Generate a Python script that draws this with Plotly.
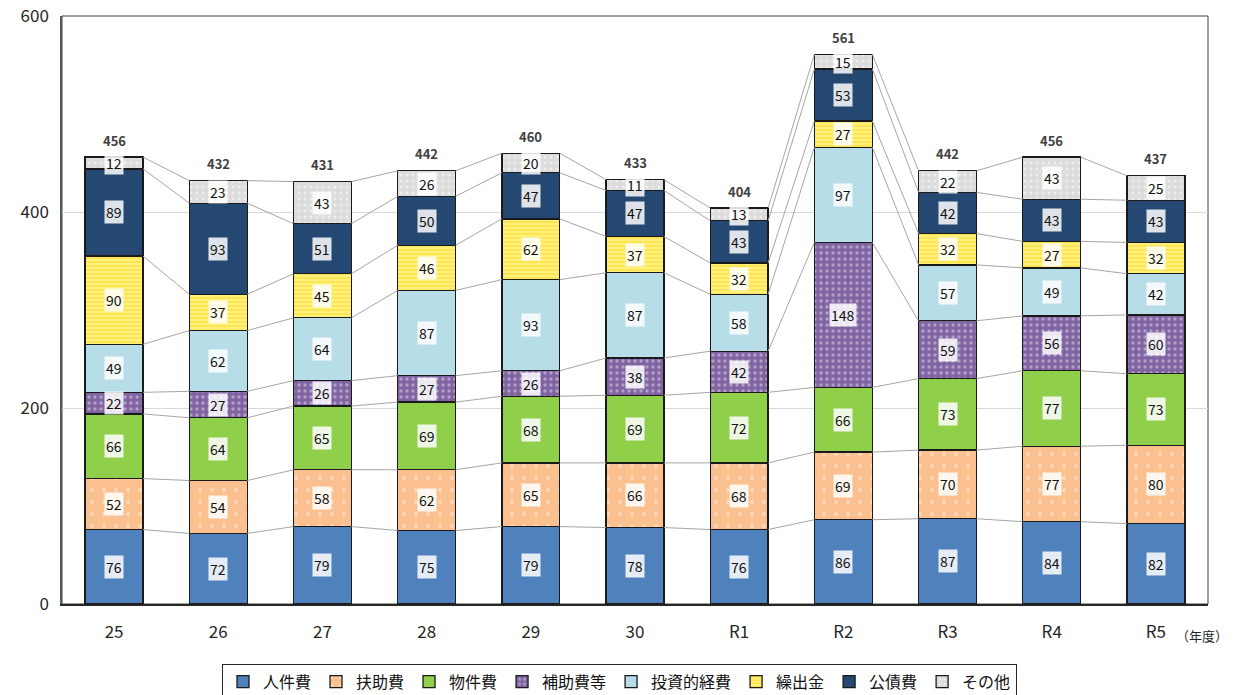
import plotly.graph_objects as go

years = ["25", "26", "27", "28", "29", "30", "R1", "R2", "R3", "R4", "R5"]

jinkenhi = [76, 72, 79, 75, 79, 78, 76, 86, 87, 84, 82]
fujohi = [52, 54, 58, 62, 65, 66, 68, 69, 70, 77, 80]
bukkenhi = [66, 64, 65, 69, 68, 69, 72, 66, 73, 77, 73]
hojohi = [22, 27, 26, 27, 26, 38, 42, 148, 59, 56, 60]
toushi = [49, 62, 64, 87, 93, 87, 58, 97, 57, 49, 42]
kuridashi = [90, 37, 45, 46, 62, 37, 32, 27, 32, 27, 32]
kousaihi = [89, 93, 51, 50, 47, 47, 43, 53, 42, 43, 43]
sonota = [12, 23, 43, 26, 20, 11, 13, 15, 22, 43, 25]

series = [
    ("人件費", jinkenhi, "#4F81BD", None),
    ("扶助費", fujohi, "#FAC090", dict(shape=".", fgcolor="rgba(255,255,255,0.8)", size=12, solidity=0.08)),
    ("物件費", bukkenhi, "#8FCF4A", None),
    ("補助費等", hojohi, "#8064A2", dict(shape=".", fgcolor="#E6DCF0", size=6, solidity=0.25)),
    ("投資的経費", toushi, "#B7DEE8", None),
    ("繰出金", kuridashi, "#FFF27A", dict(shape="-", fgcolor="#FFC000", size=4, solidity=0.3)),
    ("公債費", kousaihi, "#254873", None),
    ("その他", sonota, "#DCDCDC", dict(shape=".", fgcolor="#FFFFFF", size=6, solidity=0.2)),
]

FONT = "Noto Sans CJK JP"
BAR_W = 0.556
xs = list(range(len(years)))

fig = go.Figure()

# cumulative tops of every stacked segment
cums = []
running = [0] * len(years)
for name, vals, color, pat in series:
    running = [r + v for r, v in zip(running, vals)]
    cums.append(list(running))

# grey connector lines between adjacent bars at each segment top
for tops in cums:
    cx, cy = [], []
    for i in range(len(years) - 1):
        cx += [i + BAR_W / 2, i + 1 - BAR_W / 2, None]
        cy += [tops[i], tops[i + 1], None]
    fig.add_trace(go.Scatter(x=cx, y=cy, mode="lines", line=dict(color="#A6A6A6", width=1),
                             showlegend=False, hoverinfo="skip"))

for name, vals, color, pat in series:
    marker = dict(color=color, line=dict(color="#1A1A1A", width=1.3))
    if pat:
        marker["pattern"] = pat
    fig.add_trace(go.Bar(x=xs, y=vals, name=name, width=BAR_W, marker=marker))

annotations = []
# value labels in each segment
base = [0] * len(years)
for (name, vals, color, pat), tops in zip(series, cums):
    for i, v in enumerate(vals):
        annotations.append(dict(
            x=i, y=base[i] + v / 2, text=str(v), showarrow=False,
            font=dict(family=FONT, size=14, color="#111111"),
            bgcolor="rgba(255,255,255,0.85)", borderpad=1,
        ))
    base = tops

# totals above bars
totals = cums[-1]
for i, t in enumerate(totals):
    annotations.append(dict(
        x=i, y=t, text=f"<b>{t}</b>", showarrow=False, yshift=17,
        font=dict(family=FONT, size=13, color="#404040"),
    ))

annotations.append(dict(
    x=len(years) - 1, xref="x", y=0, yref="y", xanchor="left", yanchor="middle",
    text="（年度）", showarrow=False, font=dict(family=FONT, size=13, color="#262626"),
    xshift=18, yshift=-31,
))

fig.update_layout(
    width=1239, height=695,
    margin=dict(l=62, r=31, t=16, b=91),
    paper_bgcolor="white", plot_bgcolor="white",
    barmode="stack",
    font=dict(family=FONT, color="#262626"),
    xaxis=dict(range=[-0.5, len(years) - 0.5], tickvals=xs, ticktext=years,
               tickfont=dict(size=17), showgrid=False, zeroline=False,
               showline=True, linecolor="#262626", linewidth=1.5, mirror=False,
               ticks="", ticklabelstandoff=12, automargin=False),
    yaxis=dict(range=[0, 600], tickvals=[0, 200, 400, 600], tickfont=dict(size=17),
               showgrid=True, gridcolor="#D9D9D9", gridwidth=1, zeroline=False,
               showline=True, linecolor="#595959", linewidth=1.5, ticks="",
               ticklabelstandoff=8, automargin=False),
    legend=dict(orientation="h", x=0.5, xanchor="center", xref="container",
                y=0.045, yanchor="top", yref="container",
                font=dict(family=FONT, size=16, color="#111111"),
                bordercolor="#262626", borderwidth=1,
                traceorder="normal", tracegroupgap=0),
    annotations=annotations,
    shapes=[dict(type="rect", xref="paper", yref="paper", x0=0, x1=1, y0=0, y1=1,
                 line=dict(color="#404040", width=1), layer="below")],
)

fig.write_html("out.html")
